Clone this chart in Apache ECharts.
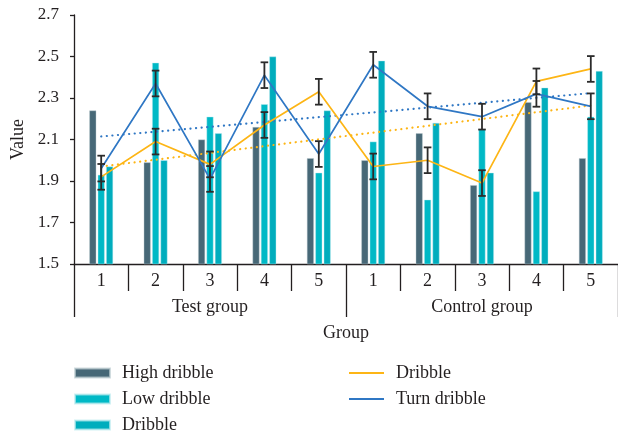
<!DOCTYPE html>
<html>
<head>
<meta charset="utf-8">
<script src="https://cdn.jsdelivr.net/npm/echarts@6/dist/echarts.min.js"></script>
<style>
  html, body { margin: 0; padding: 0; background: #ffffff; }
  #chart { width: 618px; height: 436px; }
</style>
</head>
<body>
<div id="chart"></div>
<script>
// Sessions 1-5 within each group
const groups = ['Test group', 'Control group'];
const sessions = ['1', '2', '3', '4', '5'];

// Bar series (mean values)
const highDribble = [2.24, 1.99, 2.10, 2.16, 2.01, 2.00, 2.13, 1.88, 2.28, 2.01];
const lowDribble  = [1.93, 2.47, 2.21, 2.27, 1.94, 2.09, 1.81, 2.15, 1.85, 2.21];
const dribbleBar  = [1.97, 2.00, 2.13, 2.50, 2.24, 2.48, 2.18, 1.94, 2.35, 2.43];

// Line series with their error margins
const dribbleLine = [1.92, 2.09, 1.98, 2.17, 2.33, 1.97, 2.00, 1.89, 2.38, 2.44];
const turnDribble = [1.96, 2.37, 1.91, 2.41, 2.03, 2.46, 2.26, 2.21, 2.32, 2.26];
const dribbleErr  = [0.062, 0.062, 0.062, 0.062, 0.062, 0.062, 0.062, 0.062, 0.062, 0.062];
const turnErr     = [0.062, 0.062, 0.062, 0.062, 0.062, 0.062, 0.062, 0.062, 0.062, 0.062];

const yTicks = [1.5, 1.7, 1.9, 2.1, 2.3, 2.5, 2.7];

const categories = [];
groups.forEach(() => sessions.forEach(s => categories.push(s)));

// Least-squares linear trend over the sessions
function linearTrend(values) {
  const n = values.length;
  const xs = values.map((_, i) => i + 1);
  const mx = xs.reduce((a, b) => a + b, 0) / n;
  const my = values.reduce((a, b) => a + b, 0) / n;
  let num = 0, den = 0;
  for (let i = 0; i < n; i++) {
    num += (xs[i] - mx) * (values[i] - my);
    den += (xs[i] - mx) * (xs[i] - mx);
  }
  const slope = num / den;
  return xs.map(x => my + slope * (x - mx));
}

const FONT = 'Liberation Serif';
const TEXT = '#231f20';
const AXIS = '#231f20';
const C_HIGH = '#476877';
const C_LOW = '#00b9c6';
const C_DRIB = '#00adbd';
const C_ORANGE = '#fdb515';
const C_BLUE = '#2f77c4';

function errorSeries(values, errs, key) {
  return {
    type: 'custom',
    id: key,
    z: 5,
    silent: true,
    data: values.map((v, i) => [i, v, errs[i]]),
    renderItem: function (params, api) {
      const i = api.value(0), v = api.value(1), e = api.value(2);
      const top = api.coord([i, v + e]);
      const bot = api.coord([i, v - e]);
      const half = 3.8;
      const style = { stroke: '#2b2b2b', lineWidth: 1.8, fill: null };
      return {
        type: 'group',
        children: [
          { type: 'line', shape: { x1: top[0], y1: top[1], x2: bot[0], y2: bot[1] }, style },
          { type: 'line', shape: { x1: top[0] - half, y1: top[1], x2: top[0] + half, y2: top[1] }, style },
          { type: 'line', shape: { x1: bot[0] - half, y1: bot[1], x2: bot[0] + half, y2: bot[1] }, style }
        ]
      };
    }
  };
}

const chart = echarts.init(document.getElementById('chart'), null, { renderer: 'canvas' });

const legendText = { fontFamily: FONT, fontSize: 18, color: TEXT, padding: [0, 0, 0, 7] };

chart.setOption({
  animation: false,
  backgroundColor: '#ffffff',
  textStyle: { fontFamily: FONT },
  grid: { left: 74, right: -8, top: 15, bottom: 172, containLabel: false },
  legend: [
    {
      data: ['High dribble', 'Low dribble', 'Dribble'],
      orient: 'vertical',
      left: 74,
      top: 364,
      padding: 0,
      itemWidth: 35,
      itemHeight: 9,
      itemGap: 8,
      icon: 'rect',
      selectedMode: false,
      textStyle: legendText
    },
    {
      data: ['Dribble line', 'Turn dribble'],
      orient: 'vertical',
      left: 349,
      top: 364,
      padding: 0,
      itemWidth: 35,
      itemHeight: 2,
      itemGap: 8,
      icon: 'rect',
      selectedMode: false,
      formatter: name => name === 'Dribble line' ? 'Dribble' : name,
      textStyle: legendText
    }
  ],
  xAxis: [
    {
      type: 'category',
      data: categories,
      position: 'bottom',
      axisLine: { show: true, lineStyle: { color: AXIS, width: 1.3 } },
      axisTick: { show: true, length: 27, alignWithLabel: false, lineStyle: { color: AXIS, width: 1.3 } },
      axisLabel: { fontFamily: FONT, fontSize: 18, color: TEXT, margin: 8, interval: 0 }
    },
    {
      type: 'category',
      data: groups,
      position: 'bottom',
      offset: 27,
      name: 'Group',
      nameLocation: 'middle',
      nameGap: 33,
      nameTextStyle: { fontFamily: FONT, fontSize: 18, color: TEXT },
      axisLine: { show: false },
      axisTick: { show: true, length: 26, lineStyle: { color: AXIS, width: 1.3 } },
      axisLabel: { fontFamily: FONT, fontSize: 18, color: TEXT, margin: 7 }
    }
  ],
  yAxis: {
    type: 'value',
    min: yTicks[0],
    max: yTicks[yTicks.length - 1],
    interval: 0.2,
    name: 'Value',
    nameLocation: 'middle',
    nameGap: 43,
    nameRotate: 90,
    nameTextStyle: { fontFamily: FONT, fontSize: 18, color: TEXT },
    splitLine: { show: false },
    axisLine: { show: true, lineStyle: { color: AXIS, width: 1.3 } },
    axisTick: { show: true, length: 4, lineStyle: { color: AXIS, width: 1.3 } },
    axisLabel: {
      fontFamily: FONT, fontSize: 17, color: TEXT, margin: 15,
      formatter: v => v.toFixed(1)
    }
  },
  series: [
    {
      name: 'High dribble', type: 'bar', data: highDribble,
      barWidth: 7, barGap: '20%',
      itemStyle: { color: C_HIGH, borderColor: 'rgba(190,205,210,0.7)', borderWidth: 0.6 }
    },
    {
      name: 'Low dribble', type: 'bar', data: lowDribble,
      barWidth: 7, barGap: '20%',
      itemStyle: { color: C_LOW, borderColor: 'rgba(190,235,240,0.7)', borderWidth: 0.6 }
    },
    {
      name: 'Dribble', type: 'bar', data: dribbleBar,
      barWidth: 7, barGap: '20%',
      itemStyle: { color: C_DRIB, borderColor: 'rgba(190,235,240,0.7)', borderWidth: 0.6 }
    },
    {
      name: 'Dribble line', type: 'line', data: dribbleLine,
      showSymbol: false, symbol: 'none', z: 3,
      itemStyle: { color: C_ORANGE },
      lineStyle: { color: C_ORANGE, width: 1.7 }
    },
    {
      name: 'Turn dribble', type: 'line', data: turnDribble,
      showSymbol: false, symbol: 'none', z: 3,
      itemStyle: { color: C_BLUE },
      lineStyle: { color: C_BLUE, width: 1.7 }
    },
    {
      name: 'Dribble trend', type: 'line', data: linearTrend(dribbleLine),
      showSymbol: false, symbol: 'none', z: 2, silent: true,
      lineStyle: { color: C_ORANGE, width: 2.2, type: [0.1, 5.5], cap: 'round' }
    },
    {
      name: 'Turn dribble trend', type: 'line', data: linearTrend(turnDribble),
      showSymbol: false, symbol: 'none', z: 2, silent: true,
      lineStyle: { color: C_BLUE, width: 2.2, type: [0.1, 5.5], cap: 'round' }
    },
    errorSeries(dribbleLine, dribbleErr, 'dribbleErr'),
    errorSeries(turnDribble, turnErr, 'turnErr')
  ]
});
</script>
</body>
</html>
